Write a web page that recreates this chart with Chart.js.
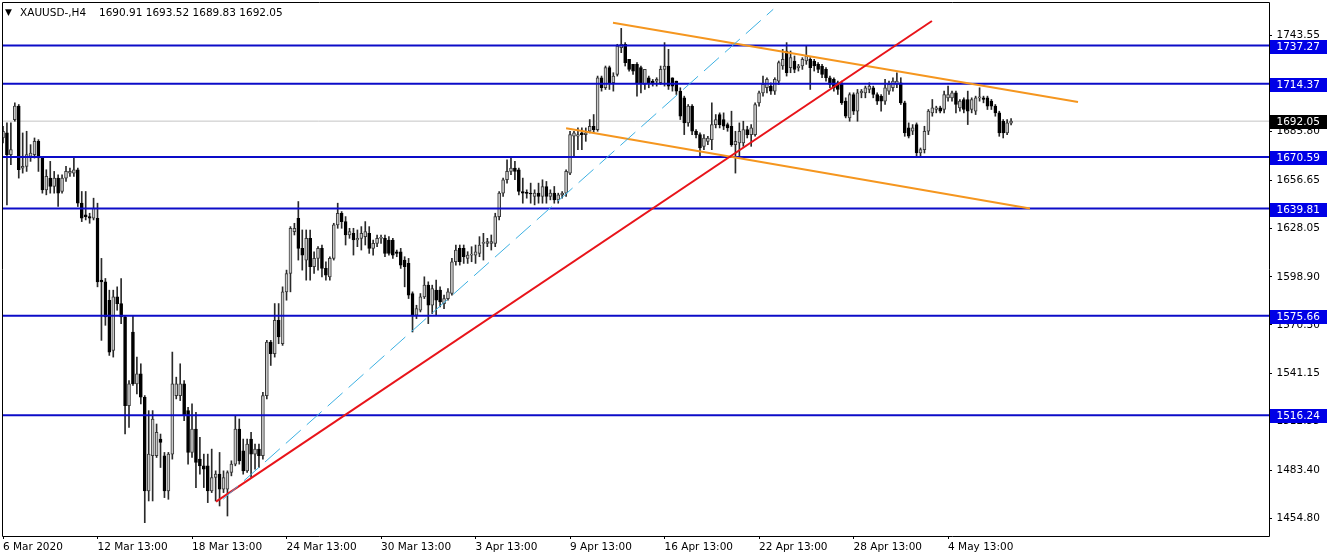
<!DOCTYPE html>
<html>
<head>
<meta charset="utf-8">
<script src="https://cdn.jsdelivr.net/npm/chart.js@4.4.1/dist/chart.umd.min.js"></script>
<style>
  html, body { margin: 0; padding: 0; background: #ffffff; }
</style>
</head>
<body>
<canvas id="xauChart" width="1332" height="560"></canvas>
<script>
const SYMBOL = "XAUUSD-,H4";

// H4 candles, 6 Mar 2020 -> 5 May 2020 (bar index 0..256)
const opens = [
  1682,1685,1672,1693,1701,1664,1665,1671,1672,1680,
  1670,1651,1658,1653,1658,1650,1658,1661,1661,1663,
  1643,1636,1635,1634,1634,1597,1596,1585,1555,1587,
  1583,1575,1522,1566,1535,1541,1527,1471,1492,1492,
  1502,1492,1471,1493,1528,1528,1535,1519,1494,1508,
  1490,1486,1486,1471,1479,1481,1472,1472,1482,1487,
  1508,1495,1483,1502,1493,1496,1492,1528,1560,1553,
  1573,1559,1590,1601,1626,1634,1616,1609,1622,1605,
  1610,1616,1604,1599,1610,1630,1637,1632,1624,1625,
  1621,1622,1623,1625,1616,1619,1622,1622,1621,1621,
  1614,1614,1609,1607,1589,1576,1579,1587,1594,1582,
  1591,1591,1583,1586,1589,1608,1616,1616,1610,1612,
  1612,1613,1619,1619,1619,1619,1635,1649,1657,1662,
  1664,1663,1650,1649.5,1649,1647,1649,1647,1653,1647,
  1649,1645,1648,1649,1661,1683,1683,1685,1684,1686,
  1689,1687,1718,1712,1724,1715,1720,1736,1738,1729,
  1726,1726,1724,1714,1718,1716,1716,1715,1723,1725,
  1718,1716,1710,1706,1691,1701,1686,1684,1677,1680,
  1681,1690,1696,1693,1690,1689,1678,1679,1679,1687,
  1684,1684,1703,1709,1712,1713,1710,1716,1725,1734,
  1724,1728,1724,1725,1728,1729,1728,1726,1725,1723,
  1718,1717,1715,1714,1704,1694,1708,1698,1709,1709,
  1711,1712,1708,1707,1704,1710,1712,1714,1715,1703,
  1688,1686,1690,1673,1675,1686,1697,1699,1700,1699,
  1706,1706,1709,1700,1705,1705,1699,1698,1706,1706,
  1706,1704,1701,1697,1692,1685,1690.91
];
const highs = [
  1689,1691,1691,1703,1702,1685,1686,1678,1682,1681,
  1671,1663,1668,1662,1660,1660,1665,1664,1671,1664,
  1650,1650,1637,1646,1643,1610,1598,1591,1591,1593,
  1598,1576,1537,1576,1551,1547,1528,1519,1519,1511,
  1505,1494,1494,1554,1539,1547,1537,1521,1523,1518,
  1503,1493,1493,1496,1483,1494,1483,1483,1489,1516,
  1514,1502,1502,1506,1499,1499,1530,1561,1561,1583,
  1583,1593,1603,1629,1631,1644,1627,1627,1627,1614,
  1617,1618,1608,1611,1631,1643,1638,1635,1628,1628,
  1627,1629,1632,1629,1621,1624,1624,1624,1623,1622,
  1615,1616,1611,1610,1590,1582,1589,1599,1596,1594,
  1597,1593,1588,1592,1610,1618,1618,1618,1614,1617,
  1618,1623,1625,1622,1624,1637,1650,1658,1669,1671,
  1668,1664,1658,1651,1655,1651,1655,1657,1656,1651,
  1653,1649,1650,1663,1686,1686,1688,1688,1688,1693,
  1696,1719,1719,1725,1725,1721,1738,1747.5,1739,1729,
  1726,1727,1725,1723,1719,1717,1718,1725,1739,1735,
  1718,1716,1712,1707,1702,1702,1687,1685,1684,1683,
  1703,1696,1697,1697,1691,1698,1686,1691,1692,1689,
  1690,1703,1710,1719,1718,1715,1718,1728,1735,1739,
  1734,1731,1726,1730,1737,1730,1729,1727,1726,1724,
  1719,1718,1716,1716,1706,1709,1709,1711,1711,1713,
  1715,1713,1709,1708,1717,1716,1718,1721,1718,1704,
  1691,1690,1691,1676,1689,1699,1705,1701,1701,1710,
  1713,1710,1710,1705,1706,1710,1706,1707,1712,1707,
  1707,1705,1702,1698,1693,1693,1693.52
];
const lows = [
  1679,1642,1666,1692,1658,1661,1662,1668,1670,1662,
  1649,1648,1649,1649,1641,1649,1656,1659,1659,1641,
  1632,1633,1631,1633,1593,1561,1570,1552,1551,1579,
  1571,1505,1509,1534,1529,1523,1452,1465,1465,1491,
  1485,1467,1466,1490,1526,1525,1513,1487,1491,1473,
  1481,1473,1464,1470,1465,1462,1470,1456,1480,1486,
  1487,1481,1482,1479,1484,1485,1490,1526,1546,1551,
  1559,1558,1585,1590,1624,1609,1603,1597,1597,1601,
  1603,1599,1597,1597,1609,1628,1628,1618,1622,1612,
  1617,1615,1618,1613,1612,1617,1619,1611,1612,1610,
  1611,1604,1593,1586,1566,1574,1578,1586,1571,1577,
  1576,1581,1580,1585,1588,1606,1606,1607,1607,1608,
  1607,1611,1609,1617,1615,1617,1633,1647,1655,1660,
  1657,1648,1643,1646,1643,1642,1643,1643,1643,1645,
  1643,1643,1646,1647,1660,1671,1675,1675,1680,1685,
  1685,1686,1710,1711,1711,1710,1719,1733,1725,1722,
  1720,1707,1709,1711,1712,1713,1713,1714,1713,1711,
  1710,1708,1693,1684,1689,1684,1682,1671,1675,1678,
  1675,1688,1688,1687,1686,1677,1661,1671,1677,1682,
  1677,1683,1701,1707,1709,1708,1708,1714,1723,1719,
  1721,1721,1722,1723,1726,1711,1722,1721,1718,1716,
  1712,1710,1708,1702,1694,1692,1696,1692,1706,1706,
  1709,1706,1702,1698,1702,1708,1710,1712,1702,1683,
  1682,1684,1671,1671,1673,1684,1695,1697,1697,1697,
  1704,1704,1697,1698,1697,1690,1697,1696,1704,1703,
  1699,1699,1695,1683,1682,1684,1689.83
];
const closes = [
  1686,1672,1675,1701,1663,1665,1672,1673,1680,1670,
  1651,1659,1653,1658,1649,1658,1662,1662,1663,1643,
  1634,1635,1634,1640,1596,1596,1575,1554,1587,1583,
  1575,1522,1535,1535,1541,1527,1471,1493,1514,1506,
  1500,1471,1493,1535,1535,1535,1516,1494,1508,1488,
  1486,1484,1471,1479,1481,1472,1479,1482,1487,1508,
  1489,1483,1499,1493,1496,1492,1528,1560,1553,1573,
  1563,1590,1601,1628,1628,1616,1612,1622,1605,1610,
  1616,1604,1600,1610,1630,1637,1632,1624,1626,1621,
  1622,1625,1626,1616,1619,1622,1622.5,1613,1613,1612,
  1613,1606,1605,1588,1576,1580,1587,1594,1582,1592,
  1585,1584,1586,1590,1608,1615,1608,1611,1612,1612.5,
  1614,1618,1619.5,1620,1620,1635,1649,1657,1662,1664,
  1662,1650,1649,1648.8,1648.5,1649,1647,1653,1647,1649,
  1645,1648,1649,1662,1684,1685,1684,1684,1685,1689,
  1687,1718,1712,1724,1715,1719,1737,1738,1727,1723,
  1722,1715,1715,1723,1715,1715,1717,1723,1725,1713,
  1713,1710,1695,1691,1701,1686,1684,1676,1682,1682,
  1690,1693,1690,1689,1688,1678,1680,1686,1687,1684,
  1688,1702,1709,1714,1717,1710,1717,1727,1729,1721,
  1730,1723,1725,1729,1731,1724,1725,1723,1720,1718,
  1714,1712,1711,1703,1695,1708,1698,1709,1710,1712,
  1713,1708,1704,1704,1712,1714,1716,1716,1703,1685,
  1683,1688,1673,1675,1686,1698,1700,1700,1698,1708,
  1708,1709,1702,1704,1699,1698,1705,1706,1706.5,1705,
  1701,1701,1697,1685,1685,1691,1692.05
];

// time axis: bar index of each date label
const dateTickBars = [0, 24, 48, 72, 96, 120, 144, 168, 192, 216, 240];
const dateTickLabels = ["6 Mar 2020", "12 Mar 13:00", "18 Mar 13:00", "24 Mar 13:00", "30 Mar 13:00",
  "3 Apr 13:00", "9 Apr 13:00", "16 Apr 13:00", "22 Apr 13:00", "28 Apr 13:00", "4 May 13:00"];

// price axis
const priceTicks = [1743.55, 1714.70, 1685.80, 1656.65, 1628.05, 1598.90, 1570.30, 1541.15, 1512.55, 1483.40, 1454.80];

// horizontal support / resistance levels
const levels = [1737.27, 1714.37, 1670.59, 1639.81, 1575.66, 1516.24];

// trend lines, [bar index, price]
const redTrend = [[54.1, 1464.6], [235.9, 1751.9]];
const cyanTrend = [[55.9, 1466.0], [195.6, 1758.9]];
const channelTop = [[154.9, 1750.9], [273.0, 1703.5]];
const channelBottom = [[143.0, 1687.8], [260.8, 1639.8]];

const X_MIN = -0.254, X_MAX = 321.5;
const Y_MIN = 1444.05, Y_MAX = 1762.68;
const FONT = "DejaVu Sans";
const LEVEL_BLUE = "#0c0cc8";

/**
 * a straight line between two [bar, price] points
 */
function segment(points, color, width, dash) {
    return {
        type: 'line',
        data: points.map(p => ({ x: p[0], y: p[1] })),
        borderColor: color,
        borderWidth: width,
        borderDash: dash || [],
        pointRadius: 0,
        fill: false,
        order: 1
    };
}

const lastIdx = closes.length - 1;
const lastPrice = closes[lastIdx];

const wickData = opens.map((o, i) => ({ x: i, y: [lows[i], highs[i]] }));
const bodyData = opens.map((o, i) => ({ x: i, y: [o, closes[i]] }));

const isUp = (i) => closes[i] >= opens[i];

const datasets = [
    // bid line
    Object.assign(segment([[X_MIN - 1, lastPrice], [X_MAX + 1, lastPrice]], '#c4c4c4', 1), { order: 6 }),
    {
        type: 'bar',
        data: wickData,
        barThickness: 1,
        grouped: false,
        backgroundColor: '#2a2a2a',
        order: 5
    },
    {
        type: 'bar',
        data: bodyData,
        barThickness: 3,
        grouped: false,
        minBarLength: 1,
        borderSkipped: false,
        borderWidth: 1,
        backgroundColor: (ctx) => isUp(ctx.dataIndex) ? '#c9c9c9' : '#000000',
        borderColor: (ctx) => isUp(ctx.dataIndex) ? '#3a3a3a' : '#000000',
        order: 4
    }
];

levels.forEach(v => {
    datasets.push(Object.assign(segment([[X_MIN - 1, v], [X_MAX + 1, v]], LEVEL_BLUE, 2), { order: 2 }));
});
datasets.push(segment(cyanTrend, '#3cb0e2', 1, [20, 8]));
datasets.push(segment(redTrend, '#e8141a', 2));
datasets.push(segment(channelTop, '#f5961f', 2));
datasets.push(segment(channelBottom, '#f5961f', 2));

// frame, header and the price boxes on the right axis
const overlayPlugin = {
    id: 'mtOverlay',
    afterDraw(chart) {
        const ctx = chart.ctx;
        const area = chart.chartArea;
        const yScale = chart.scales.y;

        ctx.save();
        ctx.strokeStyle = '#000000';
        ctx.lineWidth = 1;
        ctx.beginPath();
        ctx.moveTo(2.5, 2.5);
        ctx.lineTo(Math.round(area.right) + 0.5, 2.5);
        ctx.lineTo(Math.round(area.right) + 0.5, Math.round(area.bottom) + 0.5);
        ctx.lineTo(2.5, Math.round(area.bottom) + 0.5);
        ctx.closePath();
        ctx.stroke();

        // header
        ctx.fillStyle = '#000000';
        ctx.textBaseline = 'middle';
        ctx.textAlign = 'left';
        ctx.font = '9px "' + FONT + '"';
        ctx.fillText('▼', 5, 13);
        ctx.font = '10.5px "' + FONT + '"';
        ctx.fillText(SYMBOL, 20, 13);
        const ohlc = [opens[lastIdx], highs[lastIdx], lows[lastIdx], closes[lastIdx]].map(v => v.toFixed(2)).join(' ');
        ctx.fillText(ohlc, 99, 13);

        // price boxes
        const boxLeft = Math.round(area.right) + 1;
        const drawBox = (value, bg) => {
            const y = Math.round(yScale.getPixelForValue(value));
            ctx.fillStyle = bg;
            ctx.fillRect(boxLeft, y - 6, 57, 14);
            ctx.fillStyle = '#ffffff';
            ctx.fillText(value.toFixed(2), 1276.5, y + 1);
        };
        levels.forEach(v => drawBox(v, '#0000e6'));
        drawBox(lastPrice, '#000000');
        ctx.restore();
    }
};

const tickFont = { family: FONT, size: 10.5 };

const config = {
    type: 'bar',
    data: { datasets: datasets },
    options: {
        responsive: false,
        animation: false,
        devicePixelRatio: 1,
        layout: { padding: { left: 2, top: 3, right: 0, bottom: 0 } },
        plugins: {
            legend: { display: false },
            tooltip: { enabled: false }
        },
        scales: {
            x: {
                type: 'linear',
                position: 'bottom',
                min: X_MIN,
                max: X_MAX,
                offset: false,
                border: { display: false },
                grid: { drawOnChartArea: false, drawTicks: true, tickLength: 3, color: '#000000', offset: false },
                ticks: {
                    autoSkip: false,
                    maxRotation: 0,
                    align: 'start',
                    padding: 2,
                    color: '#000000',
                    font: tickFont,
                    callback: (value, index) => dateTickLabels[index]
                },
                afterBuildTicks: (scale) => {
                    scale.ticks = dateTickBars.map(v => ({ value: v }));
                },
                afterFit: (scale) => {
                    scale.height = 24;
                    scale.paddingLeft = 0;
                    scale.paddingRight = 0;
                }
            },
            y: {
                type: 'linear',
                position: 'right',
                min: Y_MIN,
                max: Y_MAX,
                beginAtZero: false,
                border: { display: false },
                grid: { drawOnChartArea: false, drawTicks: true, tickLength: 3, color: '#000000' },
                ticks: {
                    autoSkip: false,
                    padding: 4.5,
                    color: '#000000',
                    font: tickFont,
                    callback: (value) => Number(value).toFixed(2)
                },
                afterBuildTicks: (scale) => {
                    scale.ticks = priceTicks.map(v => ({ value: v }));
                },
                afterFit: (scale) => {
                    scale.width = 63;
                    scale.paddingTop = 0;
                    scale.paddingBottom = 0;
                }
            }
        }
    },
    plugins: [overlayPlugin]
};

new Chart(document.getElementById('xauChart').getContext('2d'), config);
</script>
</body>
</html>
